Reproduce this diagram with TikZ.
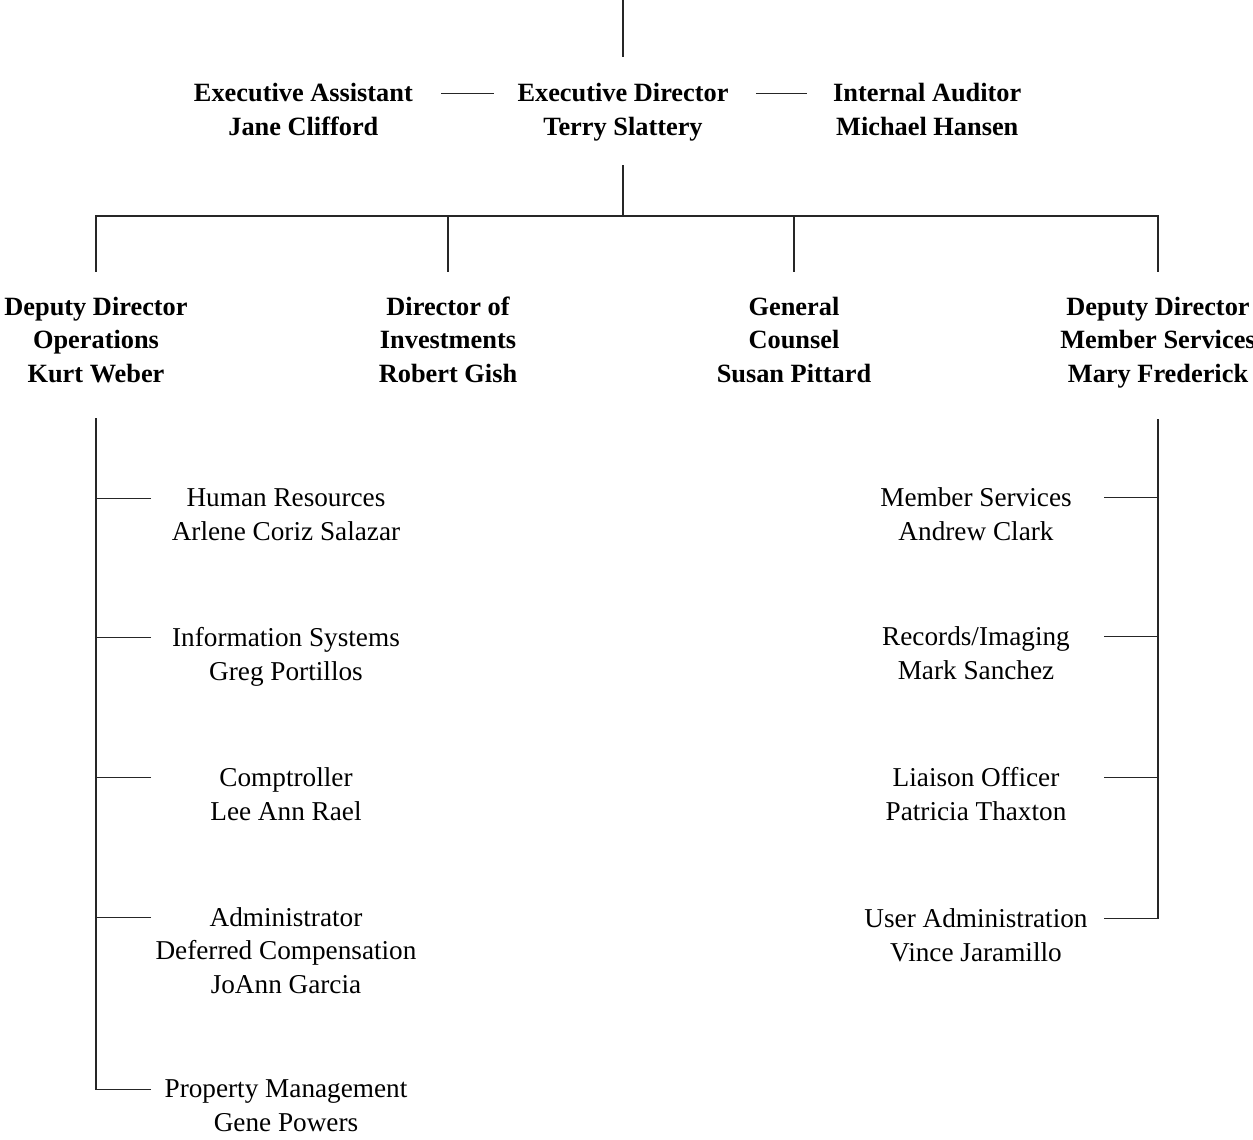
\documentclass[tikz,border=0pt]{standalone}
\usepackage{fontspec}
\setmainfont{Liberation Serif}
\usetikzlibrary{positioning,calc}

\begin{document}
\begin{tikzpicture}[x=0.02cm,y=-0.02cm,node distance=2.08cm]
\tikzstyle{H}=[inner sep=0pt,align=center,anchor=base,
font=\fontsize{15}{18.8}\selectfont\bfseries]
\tikzstyle{U}=[inner sep=0pt,align=center,anchor=base,
font=\fontsize{15.5}{18.8}\selectfont]
\tikzstyle{L}=[line width=0.6pt,draw=black!85]
\useasboundingbox (0,0) rectangle (1253,1139);
\coordinate (top) at (623,0);
\coordinate (bar) at (623,216);
\coordinate (lbr) at (151,0);
\coordinate (rbr) at (1104,0);
\node[H] (ed) at (623,135) {Executive Director\\Terry Slattery};
\node[H,base left=of ed] (ea) {Executive Assistant\\Jane Clifford};
\node[H,base right=of ed] (ia) {Internal Auditor\\Michael Hansen};
\node[H] (ops) at (96,382) {Deputy Director\\Operations\\Kurt Weber};
\node[H] (inv) at (448,382) {Director of\\Investments\\Robert Gish};
\node[H] (gc) at (794,382) {General\\Counsel\\Susan Pittard};
\node[H] (msd) at (1158,382) {Deputy Director\\Member Services\\Mary Frederick};
\node[U] (hr) at (286,540) {Human Resources\\Arlene Coriz Salazar};
\node[U] (is) at (286,680) {Information Systems\\Greg Portillos};
\node[U] (cp) at (286,820) {Comptroller\\Lee Ann Rael};
\node[U] (ad) at (286,993) {Administrator\\Deferred Compensation\\JoAnn Garcia};
\node[U] (pm) at (286,1131) {Property Management\\Gene Powers};
\node[U] (mem) at (976,540) {Member Services\\Andrew Clark};
\node[U] (rec) at (976,679) {Records/Imaging\\Mark Sanchez};
\node[U] (lo) at (976,820) {Liaison Officer\\Patricia Thaxton};
\node[U] (ua) at (976,961) {User Administration\\Vince Jaramillo};
\draw[L,shorten >=0.52cm] (top) -- (ed.north);
\draw[L,shorten <=0.56cm,shorten >=0.46cm]
  ($(ea.north east |- ed.north)+(0,10)$) -- ($(ed.north west)+(0,10)$);
\draw[L,shorten <=0.54cm,shorten >=0.52cm]
  ($(ed.north east)+(0,10)$) -- ($(ia.north west |- ed.north)+(0,10)$);
\draw[L,shorten <=0.48cm] (ed.south) -- (bar);
\foreach \n in {ops,inv,gc,msd}
  \draw[L,shorten >=0.5cm] (bar) -| (\n.north);
\draw[L,shorten >=0.7cm] (lbr |- pm.north) ++(0,10) -| (ops.south);
\foreach \n in {hr,is,cp,ad}
  \draw[L] (lbr |- \n.north) ++(0,10) -- ++(-55,0);
\draw[L,shorten >=0.62cm] (rbr |- ua.north) ++(0,10) -| (msd.south);
\foreach \n in {mem,rec,lo}
  \draw[L] (rbr |- \n.north) ++(0,10) -- ++(54,0);
\end{tikzpicture}
\end{document}
